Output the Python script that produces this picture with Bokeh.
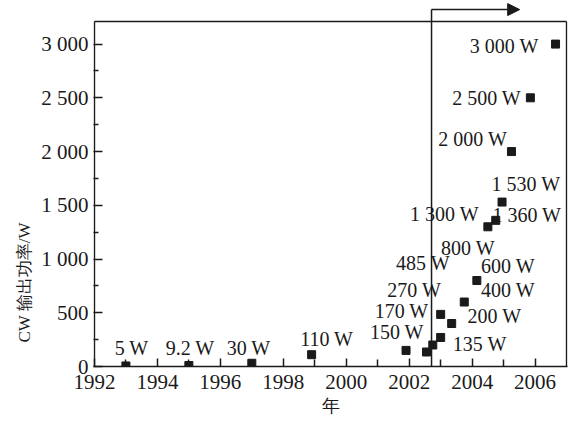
from bokeh.plotting import figure
from bokeh.models import FixedTicker, Title, Arrow, NormalHead, ColumnDataSource, Range1d
from bokeh.core.properties import value
from bokeh.embed import file_html
from bokeh.resources import INLINE

# ---- data ----
years = [1993.0, 1995.0, 1997.0, 1998.9, 2001.9, 2002.55, 2002.75, 2003.0, 2003.0,
         2003.35, 2003.75, 2004.15, 2004.5, 2004.75, 2004.95, 2005.25, 2005.85, 2006.65]
power = [5, 9.2, 30, 110, 150, 135, 200, 270, 485,
         400, 600, 800, 1300, 1360, 1530, 2000, 2500, 3000]

label_text = ["5 W", "9.2 W", "30 W", "110 W", "150 W", "170 W", "270 W", "485 W",
              "800 W", "1 300 W", "1 360 W", "600 W", "400 W", "200 W", "135 W",
              "1 530 W", "2 000 W", "2 500 W", "3 000 W"]
label_year = [1993.18, 1995.04, 1996.90, 1999.38, 2001.61, 2001.76, 2002.16, 2002.44,
              2003.87, 2003.12, 2005.74, 2005.14, 2005.14, 2004.71, 2004.24,
              2005.71, 2004.02, 2004.46, 2005.02]
label_power = [174, 174, 174, 256, 320, 512, 714, 961,
               1107, 1418, 1409, 933, 714, 467, 210,
               1702, 2113, 2498, 2983]

x_major = [1992, 1994, 1996, 1998, 2000, 2002, 2004, 2006]
x_minor = [1993, 1995, 1997, 1999, 2001, 2003, 2005]
y_major = [0, 500, 1000, 1500, 2000, 2500, 3000]
y_major_labels = ["0", "500", "1 000", "1 500", "2 000", "2 500", "3 000"]
y_minor = [250, 750, 1250, 1750, 2250, 2750]

# region marker (since ~2002.7, arrow to the right)
mark_year = 2002.71
arrow_end_year = 2005.51

X_START, X_END = 1991.97, 2007.03
BOX_LEFT, BOX_RIGHT = 1992, 2007
Y_END = 3387
BOX_TOP = 3211
ARROW_Y = 3321

SERIF = "Liberation Serif"
INK = "#1a1a1a"

p = figure(width=568, height=422, output_backend="svg", toolbar_location=None,
           x_range=Range1d(X_START, X_END), y_range=Range1d(0, Y_END),
           min_border_left=93, min_border_right=1, min_border_top=2, min_border_bottom=56,
           background_fill_color="white", border_fill_color="white")
p.outline_line_color = None
p.xgrid.grid_line_color = None
p.ygrid.grid_line_color = None

# x axis
xa = p.xaxis[0]
xa.ticker = FixedTicker(ticks=x_major, minor_ticks=x_minor)
xa.axis_line_color = INK
xa.axis_line_width = 1.5
xa.major_tick_in = 8
xa.major_tick_out = 0
xa.minor_tick_in = 7
xa.minor_tick_out = 0
xa.major_tick_line_color = INK
xa.minor_tick_line_color = INK
xa.major_tick_line_width = 1.5
xa.minor_tick_line_width = 1.5
xa.major_label_text_font = SERIF
xa.major_label_text_font_size = "21px"
xa.major_label_text_color = INK
xa.major_label_standoff = 8
xa.axis_label = "年"
xa.axis_label_text_font = SERIF
xa.axis_label_text_font_size = "18px"
xa.axis_label_text_font_style = "normal"
xa.axis_label_text_color = INK
xa.axis_label_standoff = 4

# y axis
ya = p.yaxis[0]
ya.ticker = FixedTicker(ticks=y_major, minor_ticks=y_minor)
ya.major_label_overrides = {v: s for v, s in zip(y_major, y_major_labels)}
ya.axis_line_color = None
ya.major_tick_in = 9
ya.major_tick_out = 0
ya.minor_tick_in = 5
ya.minor_tick_out = 0
ya.major_tick_line_color = INK
ya.minor_tick_line_color = INK
ya.major_tick_line_width = 1.5
ya.minor_tick_line_width = 1.5
ya.major_label_text_font = SERIF
ya.major_label_text_font_size = "21px"
ya.major_label_text_color = INK
ya.major_label_standoff = 5

p.add_layout(Title(text="CW 输出功率/W", align="left", offset=24,
                   text_font=SERIF, text_font_size="17px", text_font_style="normal",
                   text_color=INK), "left")

# box: left, top, right borders
p.segment(x0=[BOX_LEFT, BOX_LEFT, BOX_RIGHT], y0=[0, BOX_TOP, 0],
          x1=[BOX_LEFT, BOX_RIGHT, BOX_RIGHT], y1=[BOX_TOP, BOX_TOP, BOX_TOP],
          line_color=INK, line_width=1.5)

# region marker: vertical line + arrow
p.segment(x0=[mark_year], y0=[0], x1=[mark_year], y1=[ARROW_Y], line_color=INK, line_width=1.5)
p.add_layout(Arrow(end=NormalHead(size=12, fill_color=INK, line_color=INK, line_width=1),
                   x_start=mark_year, y_start=ARROW_Y, x_end=arrow_end_year, y_end=ARROW_Y,
                   line_color=INK, line_width=1.5))

# points
src = ColumnDataSource(dict(x=years, y=power))
p.scatter("x", "y", source=src, marker="square", size=8, fill_color=INK, line_color=INK)

# labels
lsrc = ColumnDataSource(dict(x=label_year, y=label_power, t=label_text))
p.text("x", "y", text="t", source=lsrc, text_font=value(SERIF), text_font_size="20px",
       text_align="center", text_baseline="middle", text_color=INK)

open("out.html", "w").write(file_html(p, INLINE))
